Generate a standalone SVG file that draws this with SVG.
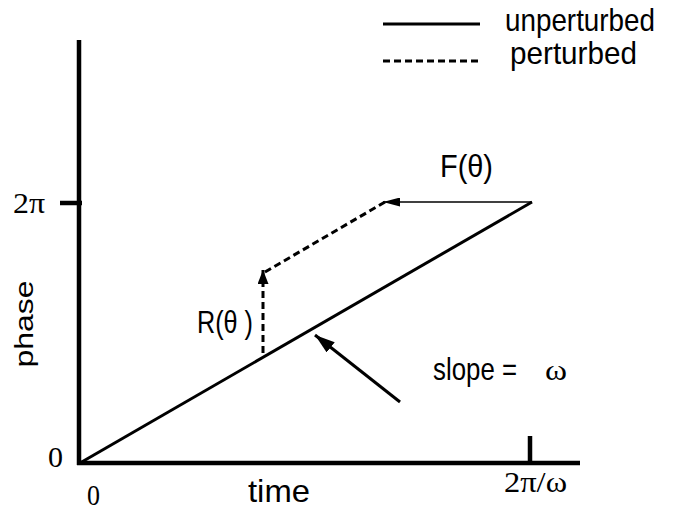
<svg xmlns="http://www.w3.org/2000/svg" width="673" height="510" viewBox="0 0 673 510">
<style>
.s{font-family:"Liberation Sans",Arial,sans-serif;font-size:32px;fill:#000}
.t{font-family:"Liberation Serif","Times New Roman",serif;font-size:30px;fill:#000}
.ax{stroke:#000;stroke-width:4.5;fill:none}
.ln{stroke:#000;stroke-width:3;fill:none}
.dash{stroke:#000;stroke-width:3;fill:none;stroke-dasharray:7,4}
</style>
<defs>
<marker id="ah" viewBox="0 0 10 10" refX="10" refY="5" markerWidth="17" markerHeight="9" markerUnits="userSpaceOnUse" orient="auto" preserveAspectRatio="none"><path d="M0,0 L10,5 L0,10 z" fill="#000"/></marker>
<marker id="ah2" viewBox="0 0 10 10" refX="10" refY="5" markerWidth="14" markerHeight="11" markerUnits="userSpaceOnUse" orient="auto" preserveAspectRatio="none"><path d="M0,0 L10,5 L0,10 z" fill="#000"/></marker>
<marker id="ah3" viewBox="0 0 10 10" refX="10" refY="5" markerWidth="20" markerHeight="13" markerUnits="userSpaceOnUse" orient="auto" preserveAspectRatio="none"><path d="M0,0 L10,5 L0,10 z" fill="#000"/></marker>
</defs>
<g id="axes">
<line class="ax" x1="79" y1="40" x2="79" y2="465"/>
<line class="ax" x1="77" y1="463" x2="580" y2="463"/>
<line class="ax" x1="60" y1="203" x2="82" y2="203"/>
<line class="ax" x1="530" y1="436" x2="530" y2="463"/>
<text class="t" x="48" y="467" textLength="15" lengthAdjust="spacingAndGlyphs">0</text>
<text class="t" x="13" y="213" textLength="32" lengthAdjust="spacingAndGlyphs">2π</text>
<text class="t" x="87" y="505" font-size="31" textLength="13" lengthAdjust="spacingAndGlyphs">0</text>
<text class="s" x="248" y="502" textLength="62" lengthAdjust="spacingAndGlyphs">time</text>
<text class="t" x="504" y="492" font-size="28" textLength="63" lengthAdjust="spacingAndGlyphs">2π/ω</text>
<text class="s" transform="translate(33,324) scale(0.8,1) rotate(-90)" text-anchor="middle" font-size="31">phase</text>
</g>
<g id="legend">
<line class="ln" x1="383" y1="24" x2="480" y2="24" stroke-width="3.5"/>
<text class="s" x="505" y="31" font-size="28" textLength="150" lengthAdjust="spacingAndGlyphs">unperturbed</text>
<line class="dash" x1="383" y1="61" x2="480" y2="61" stroke-dasharray="7,4"/>
<text class="s" x="510" y="64" textLength="127" lengthAdjust="spacingAndGlyphs">perturbed</text>
</g>
<g id="connectors">
<line class="ln" x1="80" y1="463" x2="532" y2="202"/>
<line x1="532" y1="202" x2="383" y2="202" stroke="#000" stroke-width="1.5" marker-end="url(#ah)"/>
<line class="dash" x1="385" y1="202" x2="265" y2="272"/>
<line class="dash" x1="263" y1="353" x2="263" y2="270" marker-end="url(#ah2)"/>
<line class="ln" x1="400" y1="402" x2="315" y2="335" marker-end="url(#ah3)"/>
</g>
<g id="labels">
<text class="s" x="440" y="177" textLength="53" lengthAdjust="spacingAndGlyphs">F(θ)</text>
<text class="s" x="197" y="333" textLength="56" lengthAdjust="spacingAndGlyphs">R(θ )</text>
<text class="s" x="433" y="380" textLength="84" lengthAdjust="spacingAndGlyphs">slope =</text>
<text class="t" x="545" y="380" textLength="22" lengthAdjust="spacingAndGlyphs">ω</text>
</g>
</svg>
